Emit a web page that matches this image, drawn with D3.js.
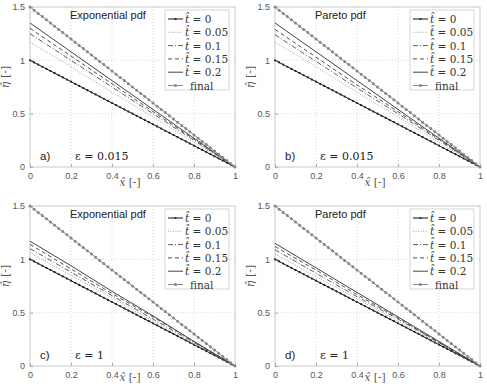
<!DOCTYPE html>
<html>
<head>
<meta charset="utf-8">
<script src="https://cdn.jsdelivr.net/npm/d3@7"></script>
<style>
  body { margin: 0; background: #fff; }
  svg { display: block; }
</style>
</head>
<body>
<svg id="chart" width="487" height="384"></svg>
<script>
// x positions where the curves were read
var xValues = [0, 0.2, 0.4, 0.6, 0.8, 1];
var seriesNames = ["t\u0302 = 0", "t\u0302 = 0.05", "t\u0302 = 0.1", "t\u0302 = 0.15", "t\u0302 = 0.2", "final"];
var xTicks = [0, 0.2, 0.4, 0.6, 0.8, 1];
var yTicks = [0, 0.5, 1, 1.5];
var panelTitles = ["Exponential pdf", "Pareto pdf", "Exponential pdf", "Pareto pdf"];
var panelLetters = ["a)", "b)", "c)", "d)"];
var panelEps = ["\u03b5 = 0.015", "\u03b5 = 0.015", "\u03b5 = 1", "\u03b5 = 1"];

// eta values, one row per series (t=0, 0.05, 0.1, 0.15, 0.2, final)
var valuesA = [
  [1.00, 0.80, 0.60, 0.40, 0.20, 0],
  [1.17, 0.94, 0.70, 0.47, 0.23, 0],
  [1.25, 1.00, 0.75, 0.50, 0.25, 0],
  [1.30, 1.04, 0.78, 0.52, 0.26, 0],
  [1.35, 1.08, 0.81, 0.54, 0.27, 0],
  [1.50, 1.20, 0.90, 0.60, 0.30, 0]
];
var valuesB = [
  [1.00, 0.80, 0.60, 0.40, 0.20, 0],
  [1.17, 0.94, 0.70, 0.47, 0.23, 0],
  [1.24, 0.99, 0.74, 0.50, 0.25, 0],
  [1.29, 1.03, 0.77, 0.52, 0.26, 0],
  [1.35, 1.08, 0.81, 0.54, 0.27, 0],
  [1.50, 1.20, 0.90, 0.60, 0.30, 0]
];
var valuesC = [
  [1.00, 0.80, 0.60, 0.40, 0.20, 0],
  [1.06, 0.85, 0.64, 0.42, 0.21, 0],
  [1.10, 0.88, 0.66, 0.44, 0.22, 0],
  [1.14, 0.91, 0.68, 0.46, 0.23, 0],
  [1.17, 0.94, 0.70, 0.47, 0.23, 0],
  [1.50, 1.20, 0.90, 0.60, 0.30, 0]
];
var valuesD = [
  [1.00, 0.80, 0.60, 0.40, 0.20, 0],
  [1.05, 0.84, 0.63, 0.42, 0.21, 0],
  [1.09, 0.87, 0.65, 0.44, 0.22, 0],
  [1.12, 0.90, 0.67, 0.45, 0.22, 0],
  [1.15, 0.92, 0.69, 0.46, 0.23, 0],
  [1.50, 1.20, 0.90, 0.60, 0.30, 0]
];
var panelValues = [valuesA, valuesB, valuesC, valuesD];

var styles = [
  { stroke: "#111", width: 1, dash: null, dot: "#222", dotSize: 2.2 },
  { stroke: "#9a9a9a", width: 0.9, dash: "1,1.5", dot: null },
  { stroke: "#333", width: 0.8, dash: "5,2,1,2", dot: null },
  { stroke: "#222", width: 0.8, dash: "4,3", dot: null },
  { stroke: "#444", width: 1, dash: null, dot: null },
  { stroke: "#8a8a8a", width: 1, dash: null, dot: "#858585", dotSize: 3 }
];

var svg = d3.select("#chart");
var layout = [
  { left: 30, top: 7, labelDy: 19 },
  { left: 275, top: 7, labelDy: 19 },
  { left: 30, top: 206, labelDy: 15 },
  { left: 275, top: 206, labelDy: 15 }
];
var W = 205, H = 160;
var serif = "'DejaVu Serif', serif";
var sans = "'Liberation Sans', Arial, sans-serif";

function drawPanel(p) {
  var pos = layout[p];
  var x = d3.scaleLinear().domain([0, 1]).range([0, W]);
  var y = d3.scaleLinear().domain([0, 1.5]).range([H, 0]);
  var g = svg.append("g").attr("transform", "translate(" + pos.left + "," + pos.top + ")");

  // grid
  g.append("g").selectAll("line.gx").data(xTicks.slice(1, -1)).enter().append("line")
    .attr("x1", d => x(d)).attr("x2", d => x(d)).attr("y1", 0).attr("y2", H)
    .attr("stroke", "#c8c8c8").attr("stroke-width", 0.7).attr("stroke-dasharray", "1,2");
  g.append("g").selectAll("line.gy").data(yTicks.slice(1, -1)).enter().append("line")
    .attr("x1", 0).attr("x2", W).attr("y1", d => y(d)).attr("y2", d => y(d))
    .attr("stroke", "#c8c8c8").attr("stroke-width", 0.7).attr("stroke-dasharray", "1,2");

  // frame
  g.append("rect").attr("width", W).attr("height", H)
    .attr("fill", "none").attr("stroke", "#bbb").attr("stroke-width", 0.8);

  // axes
  var xAxis = g.append("g").attr("transform", "translate(0," + H + ")")
    .call(d3.axisBottom(x).tickValues(xTicks).tickSize(-3).tickPadding(6).tickFormat(d3.format("")));
  var yAxis = g.append("g")
    .call(d3.axisLeft(y).tickValues(yTicks).tickSize(-3).tickPadding(5).tickFormat(d3.format("")));
  [xAxis, yAxis].forEach(function (a) {
    a.select(".domain").remove();
    a.selectAll("line").attr("stroke", "#aaa");
    a.selectAll("text").attr("fill", "#555").attr("font-family", sans).attr("font-size", 9);
  });

  // series
  var line = d3.line().x((d, i) => x(xValues[i])).y(d => y(d));
  panelValues[p].forEach(function (vals, s) {
    var st = styles[s];
    var path = g.append("path").datum(vals).attr("d", line)
      .attr("fill", "none").attr("stroke", st.stroke).attr("stroke-width", st.width)
      .attr("stroke-dasharray", st.dash);
    if (st.dot) {
      var len = path.node().getTotalLength();
      g.append("path").datum(vals).attr("d", line)
        .attr("fill", "none").attr("stroke", st.dot).attr("stroke-width", st.dotSize)
        .attr("stroke-linecap", "round")
        .attr("stroke-dasharray", "0," + (len / 50));
    }
  });

  // annotations
  g.append("text").attr("x", 40).attr("y", 12).attr("font-family", sans).attr("font-size", 11)
    .attr("fill", "#222").text(panelTitles[p]);
  g.append("text").attr("x", 10).attr("y", 153).attr("font-family", sans).attr("font-size", 11.5)
    .attr("fill", "#222").text(panelLetters[p]);
  g.append("text").attr("x", 45).attr("y", 153).attr("font-family", serif).attr("font-size", 11)
    .attr("fill", "#222").text(panelEps[p]);

  // axis labels
  g.append("text").attr("x", 100).attr("y", H + pos.labelDy).attr("font-family", serif)
    .attr("font-size", 10.5).attr("fill", "#555").attr("text-anchor", "middle")
    .html("<tspan font-style='italic'>x\u0302</tspan> [-]");
  g.append("text").attr("transform", "translate(-21," + 70 + ") rotate(-90)")
    .attr("font-family", serif).attr("font-size", 11).attr("fill", "#555").attr("text-anchor", "middle")
    .html("<tspan font-style='italic'>\u03b7\u0302</tspan> [-]");

  // legend
  var lg = g.append("g").attr("transform", "translate(135,3)");
  lg.append("rect").attr("width", 64).attr("height", 80)
    .attr("fill", "#fff").attr("stroke", "#ccc").attr("stroke-width", 0.8);
  seriesNames.forEach(function (name, s) {
    var st = styles[s];
    var yy = 9 + s * 13.3;
    lg.append("line").attr("x1", 3).attr("x2", 18).attr("y1", yy).attr("y2", yy)
      .attr("stroke", st.stroke).attr("stroke-width", st.width).attr("stroke-dasharray", st.dash);
    if (st.dot) {
      lg.append("circle").attr("cx", 10.5).attr("cy", yy).attr("r", st.dotSize / 2).attr("fill", st.dot);
    }
    var t = lg.append("text").attr("x", 20).attr("y", yy + 4).attr("font-family", serif)
      .attr("font-size", 10.5).attr("fill", "#333");
    if (s < 5) t.html("<tspan font-style='italic'>t\u0302</tspan>" + name.slice(2));
    else t.attr("x", 25).text(name);
  });
}

for (var p = 0; p < 4; p++) drawPanel(p);
</script>
</body>
</html>
